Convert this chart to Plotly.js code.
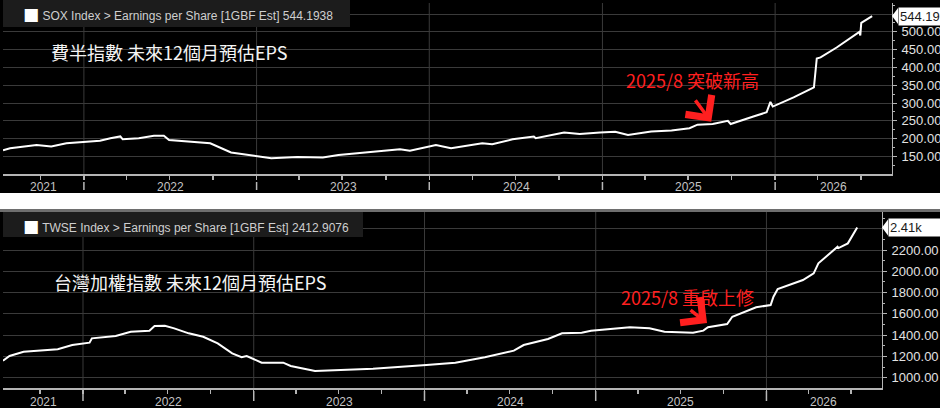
<!DOCTYPE html>
<html>
<head>
<meta charset="utf-8">
<script src="https://cdn.plot.ly/plotly-3.0.1.min.js"></script>
<style>
  html, body { margin: 0; padding: 0; background: #fff; }
  #chart { width: 940px; height: 411px; }
</style>
</head>
<body>
<div id="chart"></div>
<script>
// SOX forward 12m EPS
const soxDates = [
  '2021-07-14', '2021-07-29', '2021-09-23', '2021-10-24', '2021-11-25', '2022-02-04',
  '2022-02-26', '2022-03-19', '2022-03-24', '2022-04-27', '2022-05-29', '2022-06-19',
  '2022-06-30', '2022-08-03', '2022-09-25', '2022-11-08', '2022-12-31', '2023-02-01',
  '2023-03-28', '2023-05-21', '2023-06-23', '2023-08-26', '2023-10-31', '2023-11-21',
  '2024-01-15', '2024-02-16', '2024-04-22', '2024-05-13', '2024-06-25', '2024-08-09',
  '2024-08-13', '2024-10-12', '2024-11-14', '2024-12-27', '2025-01-28', '2025-02-24',
  '2025-04-14', '2025-05-27', '2025-07-04', '2025-07-21', '2025-08-22', '2025-09-23',
  '2025-09-29', '2025-11-16', '2025-12-14', '2025-12-22', '2025-12-27', '2026-02-09',
  '2026-03-24', '2026-03-30', '2026-04-07', '2026-05-11', '2026-06-28', '2026-06-30',
  '2026-07-02', '2026-07-25'
]
const soxEps = [
  167, 173, 182, 178, 187, 194,
  201, 206, 198, 201, 208, 208,
  196, 192, 187, 161, 152, 145,
  148, 147, 154, 161, 170, 166,
  182, 173, 187, 184, 198, 206,
  201, 217, 213, 217, 219, 210,
  220, 223, 229, 239, 241, 250,
  241, 262, 274, 303, 290, 316,
  344, 425, 428, 456, 500, 490,
  525, 544.19
]

// TWSE forward 12m EPS
const twseDates = [
  '2021-07-14', '2021-07-28', '2021-08-27', '2021-09-28', '2021-11-08', '2021-12-09',
  '2022-01-15', '2022-01-20', '2022-03-12', '2022-04-13', '2022-05-23', '2022-06-03',
  '2022-06-25', '2022-07-15', '2022-08-15', '2022-09-15', '2022-10-16', '2022-11-16',
  '2022-12-06', '2022-12-17', '2023-01-18', '2023-03-05', '2023-03-21', '2023-05-12',
  '2023-07-02', '2023-09-13', '2024-01-05', '2024-03-07', '2024-05-09', '2024-07-10',
  '2024-07-31', '2024-09-21', '2024-10-21', '2024-12-02', '2024-12-22', '2025-03-15',
  '2025-04-26', '2025-05-28', '2025-07-28', '2025-08-19', '2025-08-29', '2025-10-09',
  '2025-10-20', '2025-12-10', '2026-01-10', '2026-01-16', '2026-01-25', '2026-03-20',
  '2026-04-12', '2026-04-22', '2026-06-02', '2026-06-04', '2026-06-24', '2026-07-14'
]
const twseEps = [
  1160, 1204, 1244, 1251, 1267, 1307,
  1329, 1370, 1392, 1432, 1442, 1486,
  1489, 1464, 1417, 1385, 1323, 1229,
  1192, 1204, 1141, 1141, 1110, 1063,
  1070, 1085, 1119, 1141, 1192, 1254,
  1307, 1364, 1417, 1423, 1442, 1474,
  1464, 1432, 1423, 1442, 1474, 1505,
  1573, 1662, 1683, 1761, 1834, 1918,
  1981, 2075, 2231, 2219, 2263, 2412.9076
]

const quarterTicks = [
  '2021-10-01', '2022-01-01', '2022-04-01', '2022-07-01', '2022-10-01',
  '2023-01-01', '2023-04-01', '2023-07-01', '2023-10-01', '2024-01-01',
  '2024-04-01', '2024-07-01', '2024-10-01', '2025-01-01', '2025-04-01',
  '2025-07-01', '2025-10-01', '2026-01-01', '2026-04-01', '2026-07-01'
]
const yearStarts = ['2022-01-01', '2023-01-01', '2024-01-01', '2025-01-01', '2026-01-01']
const yearLabelDates = ['2021-10-08', '2022-07-02', '2023-07-03', '2024-07-03', '2025-07-01', '2026-05-04']
const yearLabels = ['2021', '2022', '2023', '2024', '2025', '2026']
const soxTicks = [150, 200, 250, 300, 350, 400, 450, 500, 550]
const twseTicks = [1000, 1200, 1400, 1600, 1800, 2000, 2200, 2400]

const xRange = ['2021-07-14', '2026-09-05']
const soxRange = [100.5, 581]
const twseRange = [903, 2558]

// pixel -> paper helpers (940 x 411 canvas)
const W = 940
const H = 411
const px = x => x / W
const py = y => 1 - y / H

const GRID = '#3a3a3a'
const AXIS = '#b4b4b4'
const RED = '#ff1f1f'
const FONT = 'Liberation Sans, Arial, sans-serif'
const CJK = 'Noto Sans CJK TC, Noto Sans CJK SC, sans-serif'

function tickText (vals) {
  return vals.map((v, i) => (i === vals.length - 1 ? '' : v.toFixed(2)))
}

function timeAxis (domain, anchor) {
  return {
    type: 'date',
    domain: domain,
    anchor: anchor,
    range: xRange,
    tickmode: 'array',
    tickvals: quarterTicks,
    ticktext: quarterTicks.map(() => ''),
    ticks: 'outside',
    ticklen: 4,
    tickwidth: 1.5,
    tickcolor: AXIS,
    showgrid: false,
    showline: true,
    linecolor: AXIS,
    linewidth: 1.5,
    zeroline: false,
    fixedrange: true
  }
}

function valueAxis (domain, anchor, range, ticks, minorStep) {
  return {
    domain: domain,
    anchor: anchor,
    range: range,
    side: 'right',
    tickmode: 'array',
    tickvals: ticks,
    ticktext: tickText(ticks),
    ticks: 'outside',
    ticklen: 4,
    tickcolor: AXIS,
    ticklabelstandoff: 2,
    tickfont: { family: FONT, size: 13, color: '#e2e2e2' },
    showgrid: true,
    gridcolor: GRID,
    showline: true,
    linecolor: AXIS,
    linewidth: 1,
    zeroline: false,
    minor: { dtick: minorStep, ticks: 'outside', ticklen: 2, tickcolor: AXIS, showgrid: false },
    fixedrange: true
  }
}

// vertical grid lines at year boundaries, plus the "|" marks in the label row
function yearGrid (xref, yref, barTop, barBottom) {
  const grid = yearStarts.map(d => ({
    type: 'line', xref: xref, yref: yref + ' domain', x0: d, x1: d, y0: 0, y1: 1,
    line: { color: GRID, width: 1 }, layer: 'below'
  }))
  const bars = yearStarts.map(d => ({
    type: 'line', xref: xref, yref: 'paper', x0: d, x1: d, y0: py(barBottom), y1: py(barTop),
    line: { color: '#b8b8b8', width: 1.5 }, layer: 'above'
  }))
  return grid.concat(bars)
}

function yearText (xref, labelY) {
  return yearLabels.map((t, i) => ({
    xref: xref, yref: 'paper', x: yearLabelDates[i], y: py(labelY), xanchor: 'center', yanchor: 'middle',
    showarrow: false, text: t, font: { family: FONT, size: 12, color: '#c4c4c4' }
  }))
}

// little left-pointing tab for the last-value box
function pointer (yref, value, range, plotPx, xTip) {
  const perPx = (range[1] - range[0]) / plotPx
  const d = 8 * perPx
  return {
    type: 'path',
    xref: 'paper',
    yref: yref,
    path: 'M ' + px(xTip) + ',' + value + ' L ' + px(xTip + 6) + ',' + (value + d) +
      ' L ' + px(xTip + 6) + ',' + (value - d) + ' Z',
    fillcolor: '#ffffff',
    line: { width: 0 },
    layer: 'above'
  }
}

function header (y, text) {
  return {
    xref: 'paper', yref: 'paper', x: px(21), y: py(y), xanchor: 'left', yanchor: 'middle', showarrow: false,
    text: '<span style="color:#ffffff;font-size:17px;font-family:DejaVu Sans">■</span> ' + text,
    font: { family: FONT, size: 12, color: '#cfcfcf' }
  }
}

const traces = [
  {
    type: 'scatter', mode: 'lines', x: soxDates, y: soxEps, xaxis: 'x', yaxis: 'y',
    line: { color: '#ffffff', width: 2 }, hoverinfo: 'skip'
  },
  {
    type: 'scatter', mode: 'lines', x: twseDates, y: twseEps, xaxis: 'x2', yaxis: 'y2',
    line: { color: '#ffffff', width: 2 }, hoverinfo: 'skip'
  }
]

const soxLast = soxEps[soxEps.length - 1]
const twseLast = twseEps[twseEps.length - 1]

const layout = {
  width: W,
  height: H,
  margin: { l: 0, r: 0, t: 0, b: 0 },
  paper_bgcolor: '#ffffff',
  plot_bgcolor: '#000000',
  showlegend: false,
  xaxis: timeAxis([px(3), px(892)], 'y'),
  xaxis2: timeAxis([px(3), px(882)], 'y2'),
  yaxis: valueAxis([py(174), py(3)], 'x', soxRange, soxTicks, 25),
  yaxis2: valueAxis([py(388), py(212)], 'x2', twseRange, twseTicks, 100),
  shapes: [
    // panel backgrounds
    { type: 'rect', xref: 'paper', yref: 'paper', x0: 0, x1: 1, y0: py(193), y1: 1, fillcolor: '#000', line: { width: 0 }, layer: 'below' },
    { type: 'rect', xref: 'paper', yref: 'paper', x0: 0, x1: 1, y0: py(408), y1: py(212), fillcolor: '#000', line: { width: 0 }, layer: 'below' },
    { type: 'rect', xref: 'paper', yref: 'paper', x0: 0, x1: 1, y0: py(212), y1: py(209), fillcolor: '#6e6e6e', line: { width: 0 }, layer: 'below' }
  ].concat(yearGrid('x', 'y', 182, 190), yearGrid('x2', 'y2', 391, 401), [
    // legend header boxes
    { type: 'rect', xref: 'paper', yref: 'paper', x0: px(3), x1: px(350), y0: py(27), y1: py(0), fillcolor: '#1c1c1c', line: { width: 0 }, layer: 'above' },
    { type: 'rect', xref: 'paper', yref: 'paper', x0: px(3), x1: px(363), y0: py(237), y1: py(212), fillcolor: '#1c1c1c', line: { width: 0 }, layer: 'above' },
    pointer('y', soxLast, soxRange, 171, 892),
    pointer('y2', twseLast, twseRange, 176, 882)
  ]),
  annotations: [
    header(14, 'SOX Index &gt; Earnings per Share [1GBF Est] 544.1938'),
    header(226, 'TWSE Index &gt; Earnings per Share [1GBF Est] 2412.9076'),
    {
      xref: 'paper', yref: 'paper', x: px(49), y: py(52), xanchor: 'left', yanchor: 'middle', showarrow: false,
      text: '費半指數 未來12個月預估EPS', font: { family: CJK, size: 18, color: '#f4f4f4' }
    },
    {
      xref: 'paper', yref: 'paper', x: px(52), y: py(282), xanchor: 'left', yanchor: 'middle', showarrow: false,
      text: '台灣加權指數 未來12個月預估EPS', font: { family: CJK, size: 18, color: '#f4f4f4' }
    },
    {
      xref: 'paper', yref: 'paper', x: px(624), y: py(80), xanchor: 'left', yanchor: 'middle', showarrow: false,
      text: '2025/8 突破新高', font: { family: CJK, size: 18, color: RED }
    },
    {
      xref: 'paper', yref: 'paper', x: px(619), y: py(297), xanchor: 'left', yanchor: 'middle', showarrow: false,
      text: '2025/8 重啟上修', font: { family: CJK, size: 18, color: RED }
    },
    // red arrows
    {
      xref: 'x', yref: 'y', x: '2025-08-19', y: 247, text: '', showarrow: true,
      arrowhead: 4, arrowsize: 1.8, arrowwidth: 3.5, arrowcolor: RED, ax: -17, ay: -23
    },
    {
      xref: 'x2', yref: 'y2', x: '2025-08-27', y: 1514, text: '', showarrow: true,
      arrowhead: 4, arrowsize: 1.8, arrowwidth: 3.5, arrowcolor: RED, ax: -18, ay: -14
    },
    // last value tags
    {
      xref: 'paper', yref: 'y', x: px(898), y: soxLast, xanchor: 'left', yanchor: 'middle', showarrow: false,
      text: '544.19', bgcolor: '#ffffff', borderpad: 1, width: 44, align: 'left',
      font: { family: FONT, size: 13, color: '#1a1a1a' }
    },
    {
      xref: 'paper', yref: 'y2', x: px(888), y: twseLast, xanchor: 'left', yanchor: 'middle', showarrow: false,
      text: '2.41k', bgcolor: '#ffffff', borderpad: 1, width: 54, align: 'left',
      font: { family: FONT, size: 13, color: '#1a1a1a' }
    }
  ].concat(yearText('x', 187), yearText('x2', 402))
}

Plotly.newPlot('chart', traces, layout, { displayModeBar: false, staticPlot: true })
</script>
</body>
</html>
